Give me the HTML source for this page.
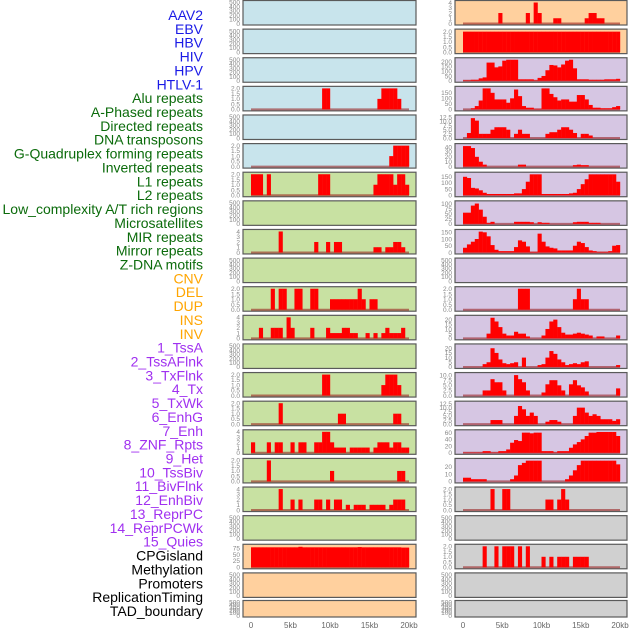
<!DOCTYPE html>
<html><head><meta charset="utf-8"><style>
html,body{margin:0;padding:0;background:#fff;}
svg{display:block;font-family:"Liberation Sans",sans-serif;}
</style></head><body>
<svg id="chart" width="630" height="630" viewBox="0 0 630 630" xmlns="http://www.w3.org/2000/svg"></svg>
<script>
const categoryLabels=["AAV2","EBV","HBV","HIV","HPV","HTLV-1","Alu repeats","A-Phased repeats","Directed repeats","DNA transposons","G-Quadruplex forming repeats","Inverted repeats","L1 repeats","L2 repeats","Low_complexity A/T rich regions","Microsatellites","MIR repeats","Mirror repeats","Z-DNA motifs","CNV","DEL","DUP","INS","INV","1_TssA","2_TssAFlnk","3_TxFlnk","4_Tx","5_TxWk","6_EnhG","7_Enh","8_ZNF_Rpts","9_Het","10_TssBiv","11_BivFlnk","12_EnhBiv","13_ReprPC","14_ReprPCWk","15_Quies","CPGisland","Methylation","Promoters","ReplicationTiming","TAD_boundary"];
const labelGroups=[6,13,5,15,5];
const groupColors=["#1a1ae6","#0b6b0b","#ffa500","#a030f0","#000000"];
const xTickLabels=["0","5kb","10kb","15kb","20kb"];
const xTickValues=[0,5,10,15,20];
const binSize=0.5;
const emptyTicks=[0,100,200,300,400,500];
const t2=[0,0.5,1,1.5,2];
const t4=[0,1,2,3,4];

const L_alu=[0,0,0,0,0,0,0,0,0,0,0,0,0,0,0,0,0,0,2,2,0,0,0,0,0,0,0,0,0,0,0,0,1,2,2,2,2,1,0,0];
const L_gquad=[0,0,0,0,0,0,0,0,0,0,0,0,0,0,0,0,0,0,0,0,0,0,0,0,0,0,0,0,0,0,0,0,0,0,0,1,2,2,2,2];
const L_l1=[2,2,2,0,2,0,0,0,0,0,0,0,0,0,0,0,0,2,2,2,0,0,0,0,0,0,0,0,0,0,0,1,2,2,2,2,1,2,2,1];
const L_lowc=[0,0,0,0,0,0,0,4,0,0,0,0,0,0,0,0,2,0,0,2,0,2,2,0,0,0,0,0,0,0,0,1,1,0,1,1,2,2,1,0];
const L_mir=[0,0,0,0,0,2,0,2,2,0,0,2,2,0,0,2,2,0,0,0,1,1,1,1,1,1,1,2,1,0,1,1,0,0,0,0,0,0,0,0];
const L_mirror=[0,0,2,0,0,2,2,2,0,4,2,0,0,0,0,2,0,0,0,2,1,1,1,2,2,1,1,0,0,1,0,1,0,1,2,1,1,1,2,0];
const L_r13=[0,0,0,0,0,0,0,0,0,0,0,0,0,0,0,0,0,0,2,2,0,0,0,0,0,0,0,0,0,0,0,0,0,1,2,2,2,1,0,0];
const L_r14=[0,0,0,0,0,0,0,2,0,0,0,0,0,0,0,0,0,0,0,0,0,0,1,1,0,0,0,0,0,0,0,0,0,0,0,0,1,1,0,0];
const L_r15=[2,0,0,0,2,0,2,2,0,0,2,0,2,2,0,0,2,2,4,4,2,1,1,1,0,1,1,1,1,1,0,1,2,2,2,1,2,2,1,1];
const L_r16=[0,0,0,0,2,0,0,0,0,0,0,0,0,0,0,0,0,0,0,0,1,0,0,0,0,0,0,0,0,0,0,0,0,0,0,0,0,1,1,0];
const L_r17=[0,0,0,0,0,0,0,4,0,0,2,0,2,0,0,0,2,2,0,2,0,2,2,0,1,0,1,1,1,0,1,1,1,1,0,1,2,2,2,0];
const L_r19=[78,78,78,78,78,78,78,78,78,78,78,78,80,78,78,78,78,78,78,78,78,78,78,78,78,78,78,79,78,78,78,78,78,78,78,78,78,78,77,77];

const R_r0=[0,0,0,0,0,0,0,0,0,2,0,0,0,0,0,0,2,0,4,2,0,0,0,1,1,0,0,0,0,0,0,1,2,2,1,1,0,0,0,0];
const R_r1=[2,2,2,2,2,2,2,2,2,2,2,2,2,2,2,2,2,2,2,2,2,2,2,2,2,2,2,2,2,2,2,2,2,2,2,2,2,2,2,2];
const R_r2=[5,5,10,10,25,35,190,190,140,150,210,220,220,220,15,15,15,15,5,30,50,110,165,160,140,170,210,220,130,15,15,15,10,10,10,10,15,15,15,20];
const R_r3=[0,0,10,30,80,190,190,150,90,90,90,60,100,180,120,30,15,15,5,5,190,190,140,110,80,90,90,70,70,130,130,90,40,15,15,10,10,10,20,30];
const R_r4=[0,3,12,10.5,2.5,2.5,2.5,5,6.5,6.5,6.5,5,0,2.5,5,2.5,2.5,0,0,0,0,2.5,3.5,3.5,5,6.5,6.5,5,3,0,2.5,2.5,1.5,0,0,0,0,0,0,0];
const R_r5=[42,42,38,20,10,4,0,0,0,0,0,0,0,0,4,4,0,0,0,0,0,0,0,0,0,0,0,0,3,4,3,3,0,0,0,0,0,0,0,0];
const R_r6=[150,140,60,55,40,20,10,10,10,10,10,10,10,15,15,50,110,170,170,170,10,10,10,10,10,10,10,15,20,50,90,130,170,170,170,170,170,170,170,110];
const R_r7=[55,55,90,100,70,35,5,10,0,0,0,0,0,10,10,10,10,8,0,8,5,5,0,0,0,0,0,0,8,10,10,10,5,5,5,0,0,0,0,0];
const R_r8=[35,60,80,100,155,150,120,55,20,10,10,10,10,40,90,80,45,5,5,140,80,45,35,30,15,15,15,15,50,80,70,40,15,10,5,5,5,10,50,55];
const R_r10=[0,0,0,0,0,0,0,0,0,0,0,0,0,0,2,2,2,0,0,0,0,0,0,0,0,0,0,0,1,2,1,1,0,0,0,0,0,0,0,0];
const R_r11=[0,0,0,0,0,0,5,22,18,12,5,3,3,7,5,5,2,0,0,0,3,10,18,20,12,6,4,4,5,6,5,4,3,0,2,2,0,0,0,3];
const R_r12=[0,0,0,0,0,3,5,20,15,8,4,3,4,5,0,10,0,0,0,2,3,10,17,14,8,5,2,3,4,3,5,6,0,0,0,0,0,0,0,2];
const R_r13=[0,0,0,0,0,2.5,2.5,8,6.5,6.5,2.5,0,0,10,8,6.5,2.5,0,0,0,1.5,5.5,7.5,7.5,5,2.5,0,5.5,7.5,5,4,2,0,0,0,0,0,0,0,3.5];
const R_r14=[0,0,0,0,0,0,0,2.5,2.5,2.5,0,0,0,5,11,9,5,7,5,0,0,1.5,2.5,2.5,1.5,0,0,0,5,10,10,7,5,6,5,3,3,3,2,3];
const R_r15=[1,1,1,1,1,5,5,1,1,5,5,10,30,38,35,60,60,58,60,60,5,5,5,1,5,5,5,15,25,32,40,50,60,60,62,62,62,62,62,50];
const R_r16=[5,5,3,3,3,3,0,0,0,0,0,0,3,8,22,25,28,28,28,28,0,0,0,0,0,0,3,8,15,22,28,28,28,28,28,28,28,28,28,23];
const R_r17=[0,0,0,0,0,0,0,2,0,0,2,2,0,0,0,0,0,0,0,0,0,1,1,0,1,2,1,0,0,0,0,0,0,0,0,0,0,0,0,0];
const R_r19=[0,0,0,0,0,2,0,0,2,0,2,2,2,0,2,0,2,0,0,0,1,0,1,0,1,1,1,0,1,1,1,1,0,0,0,0,0,0,0,0];

const B="#c8e4ec",G="#c8e1a2",O="#ffd09e",P="#d6c6e3",Y="#d0d0d0";
const leftPanels=[
 [B,null,emptyTicks,510],[B,null,emptyTicks,510],[B,null,emptyTicks,510],[B,L_alu,t2,2.05],[B,null,emptyTicks,510],[B,L_gquad,t2,2.05],
 [G,L_l1,t2,2.05],[G,null,emptyTicks,510],[G,L_lowc,t4,4.1],[G,null,emptyTicks,510],[G,L_mir,t2,2.05],[G,L_mirror,t4,4.1],[G,null,emptyTicks,510],
 [G,L_r13,t2,2.05],[G,L_r14,t2,2.05],[G,L_r15,t4,4.1],[G,L_r16,t2,2.05],[G,L_r17,t4,4.1],[G,null,emptyTicks,510],
 [O,L_r19,[0,25,50,75],84],[O,null,emptyTicks,510],[O,null,emptyTicks,510]];
const rightPanels=[
 [O,R_r0,t4,4.1],[O,R_r1,t2,2.1],[P,R_r2,[0,50,100,150,200],225],[P,R_r3,[0,50,100,150],195],[P,R_r4,[0,2.5,5,7.5,10,12.5],13],
 [P,R_r5,[0,10,20,30,40],44],[P,R_r6,[0,50,100,150],175],[P,R_r7,[0,25,50,75,100],106],[P,R_r8,[0,50,100,150],160],[P,null,emptyTicks,510],
 [P,R_r10,t2,2.05],[P,R_r11,[0,5,10,15,20],23],[P,R_r12,[0,5,10,15,20],23],[P,R_r13,[0,2.5,5,7.5,10],10.5],[P,R_r14,[0,2.5,5,7.5,10,12.5],13],
 [P,R_r15,[0,20,40,60],64],[P,R_r16,[0,10,20],29],[Y,R_r17,t2,2.05],[Y,null,emptyTicks,510],[Y,R_r19,t2,2.05],[Y,null,emptyTicks,510],[Y,null,emptyTicks,510]];

const NS="http://www.w3.org/2000/svg";
const svg=document.getElementById("chart");
function mk(tag,attrs,parent){const e=document.createElementNS(NS,tag);for(const k in attrs)e.setAttribute(k,attrs[k]);(parent||svg).appendChild(e);return e;}

let li=0;
labelGroups.forEach((n,g)=>{for(let j=0;j<n;j++){
 const t=mk("text",{x:203,y:15+li*13.86+5,"text-anchor":"end","font-size":"14",fill:groupColors[g]});
 t.textContent=categoryLabels[li];
 
 
 li++;}});

function drawColumn(panels,frameX,frameW,x0,pxPerKb,tickRight,side){
 const X=kb=>x0+kb*pxPerKb;
 panels.forEach((p,r)=>{
  const top=r<21?r*28.62+0.5:600.5;
  const h=r<21?24.5:16.5;
  const bottom=top+h;
  const [bg,vals,ticks,ymax]=p;
  const Yp=v=>bottom-1.5-v/ymax*(h-3);
  const g=mk("g",{});
  
  
  const fr=mk("rect",{x:frameX,y:top,width:frameW,height:h,fill:bg,stroke:"#5a5a5a","stroke-width":"1.2"},g);
  
  
  const dec=ticks.some(t=>t%1!==0);
  ticks.forEach(t=>{
   const tx=mk("text",{x:tickRight,y:Yp(t)+2.3,"text-anchor":"end","font-size":"6.5",fill:"#888"},g);
   tx.textContent=dec?t.toFixed(1):String(t);
   
   
  });
  if(vals){
   const bl=mk("line",{x1:X(0),x2:X(20),y1:Yp(0),y2:Yp(0),stroke:"rgba(150,20,20,0.55)","stroke-width":"2"},g);
   
   
   vals.forEach((v,i)=>{
    if(v<=0)return;
    const y=Yp(v);
    const b=mk("rect",{x:X(i*binSize),y:y,width:binSize*pxPerKb+0.2,height:Yp(0)-y,fill:"#ff0000"},g);
    
    
   });
  }
 });
 xTickValues.forEach((v,i)=>{
  const t=mk("text",{x:X(v),y:628,"text-anchor":"middle","font-size":"8",fill:"#666"});
  t.textContent=xTickLabels[i];
  
  
 });
}
drawColumn(leftPanels,243,173,251,7.9,240,'left');
drawColumn(rightPanels,455,172,463,7.85,452,'right');
</script>
</body></html>
